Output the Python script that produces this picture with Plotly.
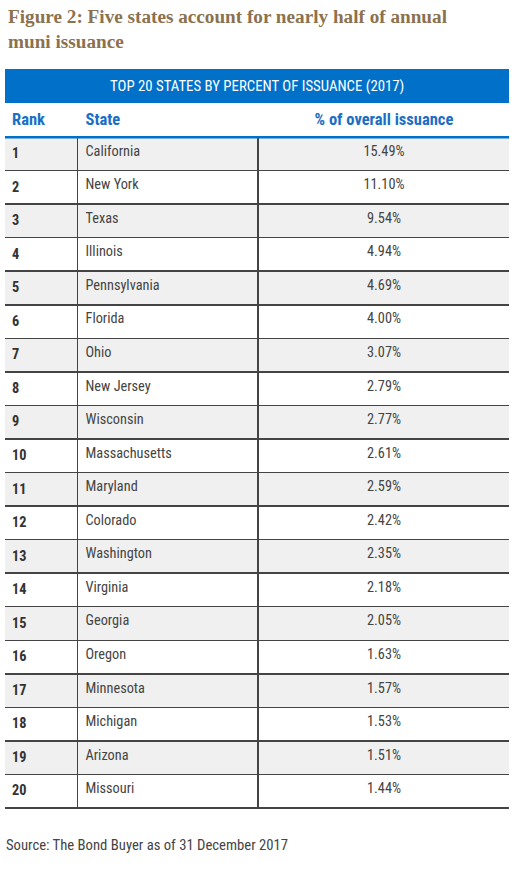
import plotly.graph_objects as go

# Datos de la tabla
ranks = list(range(1, 21))
states = ["California", "New York", "Texas", "Illinois", "Pennsylvania",
          "Florida", "Ohio", "New Jersey", "Wisconsin", "Massachusetts",
          "Maryland", "Colorado", "Washington", "Virginia", "Georgia",
          "Oregon", "Minnesota", "Michigan", "Arizona", "Missouri"]
pct_issuance = [15.49, 11.10, 9.54, 4.94, 4.69, 4.00, 3.07, 2.79, 2.77, 2.61,
                2.59, 2.42, 2.35, 2.18, 2.05, 1.63, 1.57, 1.53, 1.51, 1.44]
col_headers = ["Rank", "State", "% of overall issuance"]

W, H = 520, 869
BLUE = "#0070c8"
FONT = "Roboto Condensed, DejaVu Sans Condensed, sans-serif"


def px_x(v):
    return v / W


def px_y(v):
    return 1 - v / H


row_fill = ["#f0f0f0" if r % 2 == 1 else "white" for r in ranks]

fig = go.Figure(go.Table(
    domain=dict(x=[px_x(4), px_x(510)], y=[0, px_y(102)]),
    columnwidth=[73.5, 180.5, 252],
    header=dict(
        values=["<b>%s</b>" % h for h in col_headers],
        align=["left", "left", "center"],
        fill_color="white",
        line=dict(color="white", width=1),
        font=dict(family=FONT, size=16.5, color="#1b6ec6"),
        height=34,
    ),
    cells=dict(
        values=[["<b>%d</b>" % r for r in ranks], states,
                ["%.2f%%" % v for v in pct_issuance]],
        align=["left", "left", "center"],
        fill_color=[row_fill] * 3,
        line=dict(color="#444444", width=1.5),
        font=dict(family=FONT, size=14.3, color=["#333333", "#444444", "#444444"]),
        height=33.55,
    ),
))

shapes = [
    # barra azul del título de la tabla
    dict(type="rect", xref="paper", yref="paper", layer="above",
         x0=px_x(5), x1=px_x(509), y0=px_y(103), y1=px_y(69),
         fillcolor=BLUE, line=dict(width=0)),
    # línea azul bajo los encabezados
    dict(type="rect", xref="paper", yref="paper", layer="above",
         x0=px_x(5), x1=px_x(509), y0=px_y(138.5), y1=px_y(136),
         fillcolor=BLUE, line=dict(width=0)),
    # tapar bordes exteriores verticales
    dict(type="rect", xref="paper", yref="paper", layer="above",
         x0=0, x1=px_x(5), y0=px_y(816), y1=px_y(100),
         fillcolor="white", line=dict(width=0)),
    dict(type="rect", xref="paper", yref="paper", layer="above",
         x0=px_x(509), x1=1, y0=px_y(816), y1=px_y(100),
         fillcolor="white", line=dict(width=0)),
]

annotations = [
    dict(text="<b>Figure 2: Five states account for nearly half of annual<br>muni issuance</b>",
         xref="paper", yref="paper", x=px_x(6), y=px_y(4),
         xanchor="left", yanchor="top", align="left", showarrow=False,
         font=dict(family="Liberation Serif, DejaVu Serif, serif", size=19.2, color="#8b714e")),
    dict(text="TOP 20 STATES BY PERCENT OF ISSUANCE (2017)",
         xref="paper", yref="paper", x=px_x(257), y=px_y(86),
         xanchor="center", yanchor="middle", showarrow=False,
         font=dict(family=FONT, size=14.8, color="white")),
    dict(text="Source: The Bond Buyer as of 31 December 2017",
         xref="paper", yref="paper", x=px_x(4), y=px_y(845),
         xanchor="left", yanchor="middle", showarrow=False,
         font=dict(family=FONT, size=14.7, color="#444444")),
]

fig.update_layout(
    width=W, height=H,
    margin=dict(l=0, r=0, t=0, b=0),
    paper_bgcolor="white",
    shapes=shapes,
    annotations=annotations,
)

fig.write_html("out.html", config={"displayModeBar": False},
               post_script="document.body.style.margin='0';")
